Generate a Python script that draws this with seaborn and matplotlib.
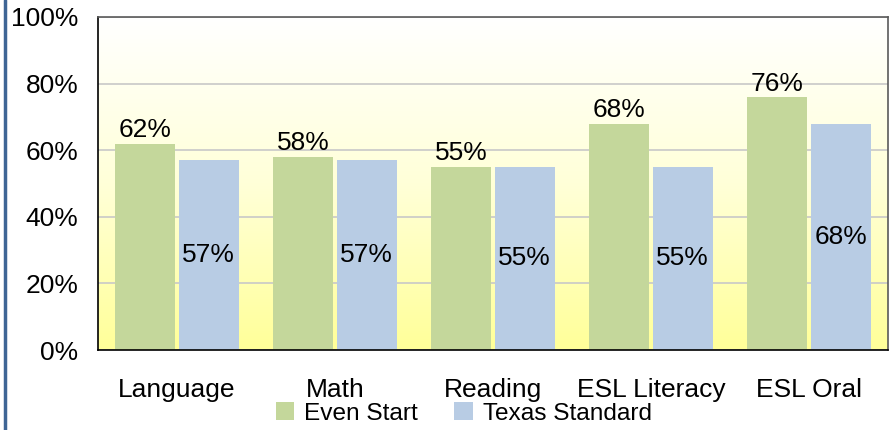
import numpy as np
import pandas as pd
import matplotlib
matplotlib.use("Agg")
import matplotlib.pyplot as plt
import seaborn as sns
from matplotlib.colors import LinearSegmentedColormap
from matplotlib.lines import Line2D

categories = ["Language", "Math", "Reading", "ESL Literacy", "ESL Oral"]
even_start = [62, 58, 55, 68, 76]
texas_standard = [57, 57, 55, 55, 68]
series_names = ["Even Start", "Texas Standard"]
yticks = [0, 20, 40, 60, 80, 100]

sns.set_theme(style="white")
plt.rcParams["font.family"] = ["Liberation Sans", "DejaVu Sans"]
plt.rcParams["text.color"] = "black"

FS = 19.0
LFS = 17.6

df = pd.DataFrame({
    "cat": categories * 2,
    "val": even_start + texas_standard,
    "series": [series_names[0]] * len(categories) + [series_names[1]] * len(categories),
})

fig = plt.figure(figsize=(8.93, 4.30), dpi=100)
ax = fig.add_axes([98 / 893, 80 / 430, 790 / 893, 333 / 430])

# gradient background
cmap = LinearSegmentedColormap.from_list("bg", ["#FFFF99", "#FFFFD8", "#FFFFFF"])
grad = np.linspace(0, 1, 256).reshape(-1, 1)
ax.imshow(grad, cmap=cmap, aspect="auto", extent=[0, 1, 0, 1], origin="lower",
          transform=ax.transAxes, zorder=0)

palette = {"Even Start": "#C4D79B", "Texas Standard": "#B8CCE4"}
sns.barplot(data=df, x="cat", y="val", hue="series", palette=palette,
            width=0.8, gap=0.05, saturation=1, ax=ax, zorder=2, edgecolor="none")

ax.set_ylim(0, 100)
ax.set_xlim(-0.5, len(categories) - 0.5)
ax.set_yticks(yticks)
ax.set_yticklabels([f"{v}%" for v in yticks])
ax.yaxis.grid(True, color="#C8C8C8", linewidth=1.2, zorder=1)
ax.set_axisbelow(True)
ax.set_xlabel("")
ax.set_ylabel("")
ax.tick_params(axis="y", length=0, pad=14, labelsize=FS, colors="black")
ax.tick_params(axis="x", length=0, pad=20, labelsize=FS, colors="black")

for side in ["top", "right"]:
    ax.spines[side].set_color("#5A5A5A")
    ax.spines[side].set_linewidth(1.2)
for side in ["left", "bottom"]:
    ax.spines[side].set_color("black")
    ax.spines[side].set_linewidth(1.2)
    ax.spines[side].set_visible(True)

# value labels
containers = ax.containers
ax.bar_label(containers[0], labels=[f"{v}%" for v in even_start],
             padding=1, fontsize=FS, color="black")
ax.bar_label(containers[1], labels=[f"{v}%" for v in texas_standard],
             label_type="center", fontsize=FS, color="black")

leg = ax.legend(loc="upper center", bbox_to_anchor=(0.463, -0.128), ncol=2, frameon=False,
                fontsize=LFS, handlelength=0.75, handleheight=0.75, handletextpad=0.4,
                columnspacing=1.5, borderaxespad=0, labelcolor="black")

fig.add_artist(Line2D([5 / 893, 5 / 893], [0, 1], color="#3F6595", linewidth=2.5,
                      transform=fig.transFigure))

fig.savefig("out.png", dpi=100)
